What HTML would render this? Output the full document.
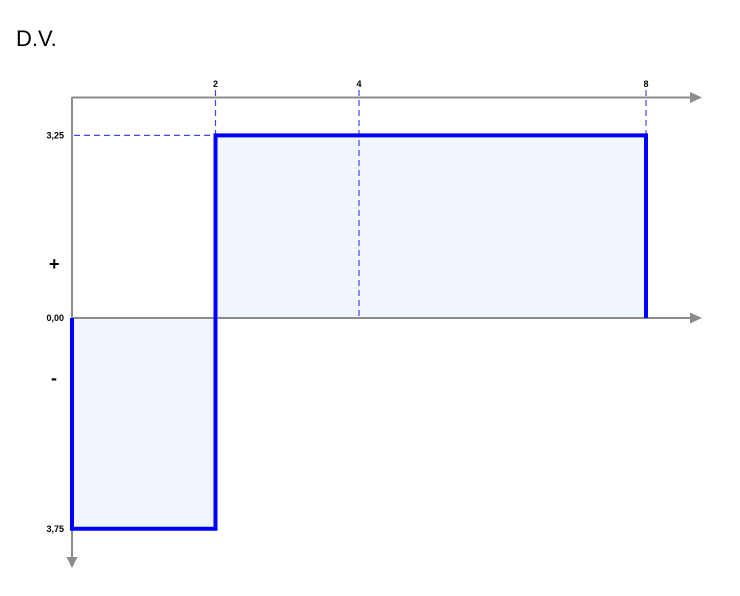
<!DOCTYPE html>
<html><head><meta charset="utf-8"><style>
body{margin:0;background:#fff;width:740px;height:591px;overflow:hidden;font-family:"Liberation Sans",sans-serif}
</style></head><body>
<svg id="chart" width="740" height="591" xmlns="http://www.w3.org/2000/svg">
<text x="16" y="46" font-size="22" fill="#000">D.V.</text>
</svg>
<script>
const segStarts=[0,2];
const segEnds=[2,8];
const segValues=[-3.75,3.25];
const topTicks=[2,4,8];
const topTickLabels=["2","4","8"];
const valueLabels=["3,25","0,00","3,75"];
const valueTicks=[3.25,0,-3.75];
const NS="http://www.w3.org/2000/svg";
const svg=document.getElementById('chart');
const X=v=>72+v*71.75;
const Y=v=>318-v*56.2;
function mk(t,a,p){const e=document.createElementNS(NS,t);for(const k in a)e.setAttribute(k,a[k]);(p||svg).appendChild(e);return e;}
// fill areas
segStarts.forEach((s,i)=>{
  const r=mk('rect',{x:X(s),y:Math.min(Y(0),Y(segValues[i])),width:X(segEnds[i])-X(s),height:Math.abs(Y(segValues[i])-Y(0)),fill:'#f1f5fd'});
  
  
});
// axes
const gray='#8c8c8c';
let a=mk('line',{x1:72,y1:97.5,x2:690,y2:97.5,stroke:gray,'stroke-width':2});

mk('polygon',{points:'702,97.5 690,92 690,103',fill:gray});
a=mk('line',{x1:72,y1:318,x2:690,y2:318,stroke:gray,'stroke-width':2});

mk('polygon',{points:'702,318 690,312.5 690,323.5',fill:gray});
a=mk('line',{x1:72,y1:97,x2:72,y2:557,stroke:gray,'stroke-width':2});

mk('polygon',{points:'72,568 66.5,557 77.5,557',fill:gray});
// dashed guides
const dash={stroke:'#4444ee','stroke-width':1.2,'stroke-dasharray':'6,4'};
topTicks.forEach((t,i)=>{
  let yEnd=318;
  segStarts.forEach((s,j)=>{ if(t>=s&&t<=segEnds[j]&&segValues[j]>0) yEnd=Y(segValues[j]); });
  if(t===4) yEnd=318;
  const l=mk('line',Object.assign({x1:X(t),y1:90,x2:X(t),y2:yEnd},dash));
  
  
  const tx=mk('text',{x:X(t),y:87,'font-size':9,'font-weight':'bold','text-anchor':'middle'});
  tx.textContent=topTickLabels[i];
  
  
});
const hl=mk('line',Object.assign({x1:74,y1:Y(3.25),x2:X(2),y2:Y(3.25)},dash));


valueTicks.forEach((v,i)=>{
  const t=mk('text',{x:64,y:Y(v)+3,'font-size':9,'font-weight':'bold','text-anchor':'end'});
  t.textContent=valueLabels[i];
  
  
});
// outline
let d='M'+X(segStarts[0])+','+Y(0);
segStarts.forEach((s,i)=>{d+=' L'+X(s)+','+Y(segValues[i])+' L'+X(segEnds[i])+','+Y(segValues[i]);});
d+=' L'+X(segEnds[segEnds.length-1])+','+Y(0);
const p=mk('path',{d:d,fill:'none',stroke:'#0000ff','stroke-width':4,'stroke-linejoin':'miter'});


const plus=mk('text',{x:49,y:270,'font-size':18,'font-weight':'bold'});plus.textContent='+';

const minus=mk('text',{x:51,y:384,'font-size':18,'font-weight':'bold'});minus.textContent='-';

</script>
</body></html>
